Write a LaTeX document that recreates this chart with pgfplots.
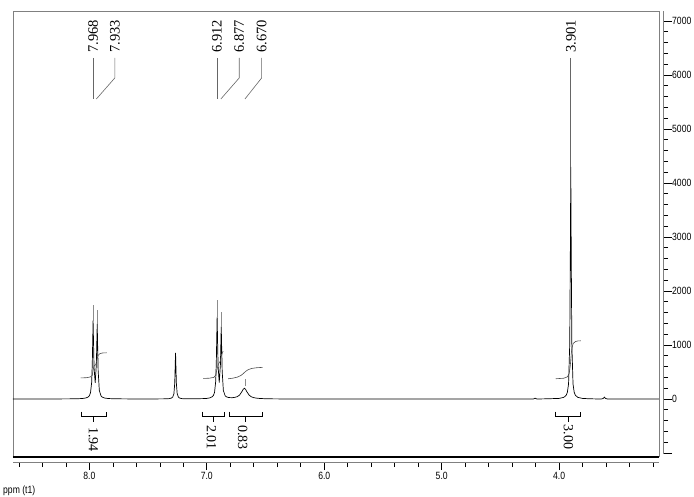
\documentclass[border=0pt]{standalone}
\usepackage{fontspec}
\setmainfont{Liberation Serif}
\newfontfamily\ticfont[FakeStretch=0.82]{Liberation Sans}
\usepackage{pgfplots}
\pgfplotsset{compat=1.18}
\definecolor{framegray}{gray}{0.5}

\begin{document}
\begin{tikzpicture}[x=1pt,y=1pt]
\path[use as bounding box] (0,0) rectangle (694,496);

% ---------------- main spectrum axis ----------------
\begin{axis}[
  at={(13pt,39pt)}, anchor=south west, scale only axis,
  width=646pt, height=446pt,
  xmin=3.15, xmax=8.65, x dir=reverse,
  ymin=-1074, ymax=7185,
  hide axis, clip=false,
]
% frame
\draw[framegray, line width=0.6pt] (rel axis cs:0,0) -- (rel axis cs:0,1) -- (rel axis cs:1,1) -- (rel axis cs:1,0);
\draw[black, line width=1.6pt] (rel axis cs:0,0) -- (rel axis cs:1,0);

% spectrum
\addplot[black, line width=0.7pt] coordinates {
(8.65,0) (8.30,1) (8.15,3) (8.10,5) (8.06,9) (8.03,19) (8.01,37) (8.00,60)
(7.99,116) (7.98,312) (7.975,642) (7.968,1450) (7.96,587) (7.95,299) (7.94,653)
(7.933,1390) (7.925,528) (7.915,157) (7.90,56) (7.89,35) (7.87,18) (7.84,9)
(7.80,5) (7.70,2) (7.50,1) (7.40,2)
(7.36,3) (7.32,7) (7.30,18) (7.29,36) (7.28,97) (7.273,289) (7.266,856)
(7.259,289) (7.252,97) (7.242,36) (7.232,18) (7.212,7) (7.17,3) (7.10,4)
(7.004,9) (6.974,21) (6.954,41) (6.944,64) (6.934,123) (6.924,328) (6.919,674)
(6.912,1520) (6.904,613) (6.894,304) (6.884,639) (6.877,1340) (6.869,515)
(6.859,158) (6.844,61) (6.834,42) (6.814,27) (6.784,24) (6.76,31) (6.74,44)
(6.72,75) (6.70,140) (6.69,180) (6.68,200) (6.67,180) (6.66,138) (6.64,72)
(6.62,40) (6.60,25) (6.58,17) (6.55,10) (6.50,5) (6.45,3) (6.40,2) (6.30,1)
(6.00,0) (5.00,0) (4.30,0) (4.22,0) (4.205,15) (4.19,0)
(4.10,4) (4.00,11) (3.96,31) (3.94,70) (3.93,124) (3.92,279) (3.91,1014)
(3.905,2622) (3.901,4300) (3.897,2622) (3.892,1014) (3.882,279) (3.872,124)
(3.862,70) (3.842,31) (3.802,11) (3.75,5) (3.70,2) (3.64,1) (3.625,10)
(3.615,35) (3.605,10) (3.59,1) (3.40,0) (3.15,0)
};

% light peak tops / peak markers
\addplot[black!45, line width=0.5pt] coordinates {(7.968,1450) (7.968,1740)};
\addplot[black!45, line width=0.5pt] coordinates {(7.933,1390) (7.933,1650)};
\addplot[black!45, line width=0.5pt] coordinates {(6.912,1520) (6.912,1830)};
\addplot[black!45, line width=0.5pt] coordinates {(6.877,1340) (6.877,1615)};
\addplot[black!45, line width=0.5pt] coordinates {(6.670,240) (6.670,370)};

% integral curves
\addplot[black!70, line width=0.6pt] coordinates {
(8.075,390) (8.02,395) (7.99,410) (7.975,440) (7.968,530) (7.96,610) (7.945,640)
(7.935,730) (7.925,810) (7.91,840) (7.89,852) (7.853,856)};
\addplot[black!70, line width=0.6pt] coordinates {
(7.031,381) (6.98,385) (6.94,400) (6.925,440) (6.912,560) (6.90,650) (6.885,700)
(6.877,790) (6.865,870) (6.86,885)};
\addplot[black!70, line width=0.6pt] coordinates {
(6.818,375) (6.78,385) (6.74,405) (6.71,435) (6.69,470) (6.68,490) (6.67,510)
(6.65,540) (6.62,565) (6.58,578) (6.525,586)};
\addplot[black!70, line width=0.6pt] coordinates {
(4.029,375) (3.96,385) (3.93,410) (3.915,470) (3.905,620) (3.901,730) (3.897,840)
(3.89,960) (3.88,1030) (3.86,1065) (3.84,1075) (3.816,1078)};

% integration brackets
\addplot[black, line width=0.6pt] coordinates {(8.072,-235) (8.072,-315) (7.853,-315) (7.853,-235)};
\addplot[black, line width=0.6pt] coordinates {(7.963,-315) (7.963,-420)};
\addplot[black, line width=0.6pt] coordinates {(7.039,-235) (7.039,-315) (6.852,-315) (6.852,-235)};
\addplot[black, line width=0.6pt] coordinates {(6.945,-315) (6.945,-420)};
\addplot[black, line width=0.6pt] coordinates {(6.812,-235) (6.812,-315) (6.528,-315) (6.528,-235)};
\addplot[black, line width=0.6pt] coordinates {(6.670,-315) (6.670,-420)};
\addplot[black, line width=0.6pt] coordinates {(4.029,-235) (4.029,-315) (3.816,-315) (3.816,-235)};
\addplot[black, line width=0.6pt] coordinates {(3.924,-315) (3.924,-420)};

% peak label leaders
\addplot[black!60, line width=0.6pt] coordinates {(7.968,6315) (7.968,5556)};
\addplot[black!60, line width=0.6pt] coordinates {(7.783,6315) (7.783,5945) (7.940,5556)};
\addplot[black!60, line width=0.6pt] coordinates {(6.914,6315) (6.914,5556)};
\addplot[black!60, line width=0.6pt] coordinates {(6.724,6315) (6.724,5945) (6.880,5556)};
\addplot[black!60, line width=0.6pt] coordinates {(6.533,6315) (6.533,5945) (6.675,5556)};
\addplot[black!60, line width=0.6pt] coordinates {(3.901,6315) (3.901,4300)};

% peak labels
\begin{scope}[every node/.style={rotate=90, anchor=west, inner sep=0pt, font=\fontsize{14.5}{15}\selectfont}]
\node at (axis cs:7.968,6408) {7.968};
\node at (axis cs:7.783,6408) {7.933};
\node at (axis cs:6.914,6408) {6.912};
\node at (axis cs:6.724,6408) {6.877};
\node at (axis cs:6.533,6408) {6.670};
\node at (axis cs:3.901,6408) {3.901};
\end{scope}

% integral values
\begin{scope}[every node/.style={rotate=-90, anchor=west, inner sep=0pt, font=\fontsize{14}{15}\selectfont}]
\node at (axis cs:7.966,-520) {1.94};
\node at (axis cs:6.960,-480) {2.01};
\node at (axis cs:6.694,-480) {0.83};
\node at (axis cs:3.922,-470) {3.00};
\end{scope}
\end{axis}

% ---------------- right intensity axis ----------------
\begin{axis}[
  at={(13pt,42pt)}, anchor=south west, scale only axis,
  width=650pt, height=443pt,
  xmin=0, xmax=1, ymin=-1019, ymax=7185,
  axis x line=none, axis y line=right,
  y axis line style={-, draw=framegray, line width=0.6pt},
  ytick={-1000,0,1000,2000,3000,4000,5000,6000,7000},
  yticklabels={,0,1000,2000,3000,4000,5000,6000,7000},
  minor ytick={-800,-600,...,6800},
  tick align=outside,
  major tick length=9pt, minor tick length=5pt,
  every tick/.style={black, line width=0.6pt},
  yticklabel style={font=\ticfont\fontsize{10.5}{11}\selectfont, anchor=west, inner sep=0pt},
]
\end{axis}

% ---------------- bottom ppm axis ----------------
\begin{axis}[
  at={(13pt,34pt)}, anchor=south west, scale only axis,
  width=646pt, height=100pt,
  xmin=3.15, xmax=8.65, x dir=reverse, ymin=0, ymax=1,
  axis y line=none, axis x line=bottom,
  x axis line style={-, draw=framegray, line width=0.6pt},
  xtick={4,5,6,7,8}, xticklabels={4.0,5.0,6.0,7.0,8.0},
  minor xtick={3.2,3.4,...,8.6},
  tick align=outside,
  major tick length=8pt, minor tick length=5pt,
  every tick/.style={black, line width=0.6pt},
  xticklabel style={font=\ticfont\fontsize{10.5}{11}\selectfont, inner sep=0pt, yshift=-2pt},
]
\end{axis}

\node[anchor=west, inner sep=0pt, font=\ticfont\fontsize{10.5}{11}\selectfont] at (3,5) {ppm (t1)};
\end{tikzpicture}
\end{document}
